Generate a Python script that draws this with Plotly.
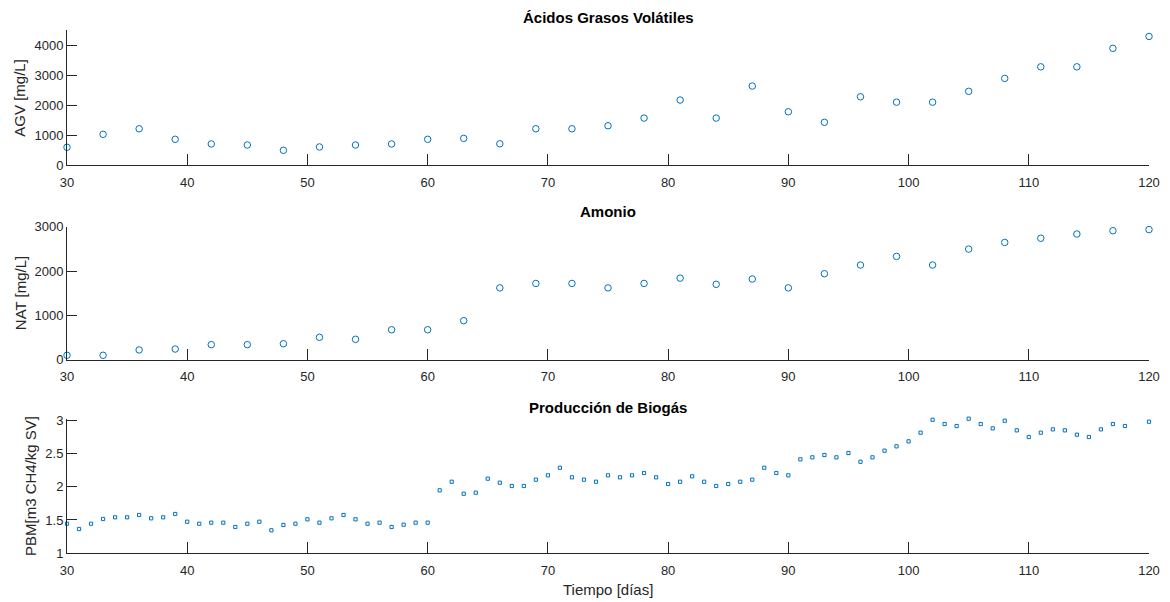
import plotly.graph_objects as go

# ---------------- data ----------------
dias_agv = [30, 33, 36, 39, 42, 45, 48, 51, 54, 57, 60, 63, 66, 69, 72, 75, 78, 81, 84, 87,
            90, 93, 96, 99, 102, 105, 108, 111, 114, 117, 120]
agv = [600, 1030, 1215, 865, 710, 675, 500, 610, 675, 710, 865, 895, 715, 1215, 1215, 1315,
       1570, 2170, 1570, 2635, 1780, 1430, 2280, 2100, 2100, 2460, 2890, 3275, 3275, 3890, 4285]

dias_nat = dias_agv
nat = [100, 100, 220, 240, 340, 340, 360, 505, 460, 675, 675, 880, 1620, 1720, 1720, 1620,
       1720, 1840, 1700, 1820, 1620, 1940, 2135, 2330, 2135, 2495, 2645, 2740, 2835, 2910, 2935]

dias_pbm = list(range(30, 119)) + [120]
pbm = [1.444, 1.365, 1.444, 1.515, 1.54, 1.54, 1.575, 1.525, 1.54, 1.59,
       1.474, 1.444, 1.46, 1.46, 1.395, 1.444, 1.474, 1.345, 1.425, 1.444,
       1.51, 1.46, 1.525, 1.575, 1.51, 1.444, 1.46, 1.395, 1.43, 1.46,
       1.46, 1.945, 2.074, 1.894, 1.91, 2.12, 2.06, 2.01, 2.01, 2.105,
       2.17, 2.284, 2.14, 2.105, 2.074, 2.17, 2.14, 2.17, 2.205, 2.14,
       2.04, 2.074, 2.155, 2.074, 2.01, 2.04, 2.074, 2.105, 2.284, 2.205,
       2.17, 2.41, 2.44, 2.475, 2.44, 2.505, 2.374, 2.44, 2.54, 2.605,
       2.68, 2.81, 3.004, 2.94, 2.91, 3.02, 2.94, 2.875, 2.99, 2.845,
       2.745, 2.81, 2.86, 2.845, 2.78, 2.745, 2.86, 2.94, 2.91, 2.975]

x_ticks = [30, 40, 50, 60, 70, 80, 90, 100, 110, 120]
agv_ticks = [0, 1000, 2000, 3000, 4000]
nat_ticks = [0, 1000, 2000, 3000]
pbm_ticks = [1, 1.5, 2, 2.5, 3]
pbm_ticktext = ["1", "1.5", "2", "2.5", "3"]

titles = ["Ácidos Grasos Volátiles", "Amonio", "Producción de Biogás"]
ylabels = ["AGV [mg/L]", "NAT [mg/L]", "PBM[m3 CH4/kg SV]"]
xlabel = "Tiempo [días]"

# ---------------- style ----------------
W, H = 1170, 602
L, R = 67, 21
BLUE = "#0072BD"
AX = "#262626"
FONT = "Liberation Sans, Arial, sans-serif"

def py(p):
    return 1 - p / H

# pixel extents of each panel (top, bottom)
panels = [(30, 165.3), (226.7, 359.7), (418.7, 553.3)]
ranges = [[0, 4500], [0, 3000], [1, 3.02]]

fig = go.Figure()
fig.add_trace(go.Scatter(x=dias_agv, y=agv, mode="markers", xaxis="x", yaxis="y",
                         marker=dict(symbol="circle-open", size=6.5, color=BLUE, line=dict(width=1)),
                         cliponaxis=False, showlegend=False))
fig.add_trace(go.Scatter(x=dias_nat, y=nat, mode="markers", xaxis="x2", yaxis="y2",
                         marker=dict(symbol="circle-open", size=6.5, color=BLUE, line=dict(width=1)),
                         cliponaxis=False, showlegend=False))
fig.add_trace(go.Scatter(x=dias_pbm, y=pbm, mode="markers", xaxis="x3", yaxis="y3",
                         marker=dict(symbol="square-open", size=3.2, color=BLUE, line=dict(width=1)),
                         cliponaxis=False, showlegend=False))

def xax(anchor):
    return dict(domain=[0, 1], anchor=anchor, range=[30, 120], tickvals=x_ticks,
                ticks="inside", ticklen=11, tickwidth=1, tickcolor=AX, ticklabelstandoff=5,
                showline=True, linecolor=AX, linewidth=1, showgrid=False, zeroline=False,
                tickfont=dict(family=FONT, size=13, color=AX), mirror=False)

def yax(anchor, dom, rng, tv, tt=None):
    d = dict(domain=dom, anchor=anchor, range=rng, tickvals=tv,
             ticks="inside", ticklen=10, tickwidth=1, tickcolor=AX,
             showline=True, linecolor=AX, linewidth=1, showgrid=False, zeroline=False,
             tickfont=dict(family=FONT, size=13, color=AX))
    if tt is not None:
        d["ticktext"] = tt
    return d

doms = [[py(b), py(t)] for (t, b) in panels]

fig.update_layout(
    width=W, height=H,
    margin=dict(l=L, r=R, t=0, b=0, autoexpand=False),
    paper_bgcolor="white", plot_bgcolor="white",
    font=dict(family=FONT, color=AX),
    xaxis=xax("y"), xaxis2=xax("y2"), xaxis3=xax("y3"),
    yaxis=yax("x", doms[0], ranges[0], agv_ticks),
    yaxis2=yax("x2", doms[1], ranges[1], nat_ticks),
    yaxis3=yax("x3", doms[2], ranges[2], pbm_ticks, pbm_ticktext),
)

plot_w = W - L - R
def pxx(p):
    return (p - L) / plot_w

title_y = [18, 212, 407]
for t, yy in zip(titles, title_y):
    fig.add_annotation(text="<b>%s</b>" % t, xref="paper", yref="paper",
                       x=pxx(608), y=py(yy), xanchor="center", yanchor="middle",
                       showarrow=False, font=dict(family=FONT, size=15, color="#000000"))

ylab_x = [20, 20, 30]
for lab, xx, (t, b) in zip(ylabels, ylab_x, panels):
    fig.add_annotation(text=lab, xref="paper", yref="paper", textangle=-90,
                       x=pxx(xx), y=py((t + b) / 2), xanchor="center", yanchor="middle",
                       showarrow=False, font=dict(family=FONT, size=15, color=AX))

fig.add_annotation(text=xlabel, xref="paper", yref="paper",
                   x=pxx(608), y=py(589), xanchor="center", yanchor="middle",
                   showarrow=False, font=dict(family=FONT, size=15, color=AX))

fig.write_html("out.html")
